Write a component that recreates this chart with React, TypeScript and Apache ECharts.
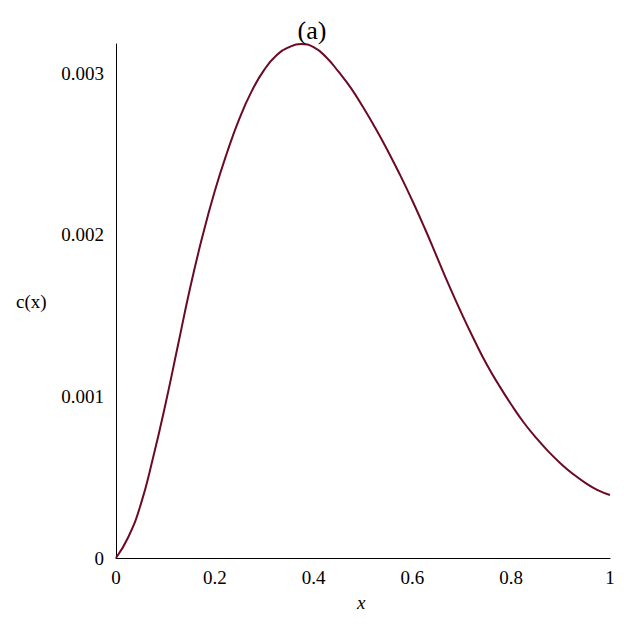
import React, { useEffect, useRef } from "react";
import * as echarts from "echarts";

const xValues = [
  0, 0.025, 0.05, 0.075, 0.1, 0.125, 0.15, 0.175, 0.2, 0.225, 0.25, 0.275, 0.3, 0.325, 0.35, 0.375, 0.4,
  0.425, 0.45, 0.475, 0.5, 0.525, 0.55, 0.575, 0.6, 0.625, 0.65, 0.675, 0.7, 0.725, 0.75, 0.775, 0.8,
  0.825, 0.85, 0.875, 0.9, 0.925, 0.95, 0.975, 1.0,
];
const cValues = [
  0, 0.00013, 0.00033, 0.00062, 0.00095, 0.00131, 0.00167, 0.00199, 0.00227, 0.00251, 0.00272, 0.00289,
  0.00302, 0.00311, 0.00316, 0.00318, 0.00316, 0.0031, 0.00301, 0.00291, 0.00279, 0.00266, 0.00252,
  0.00237, 0.00221, 0.00204, 0.00186, 0.00168, 0.00151, 0.00135, 0.0012, 0.00107, 0.00095, 0.00084,
  0.000745, 0.00066, 0.000585, 0.00052, 0.000465, 0.00042, 0.00039,
];
const xTicks = [0, 0.2, 0.4, 0.6, 0.8, 1];
const yTicks = [0, 0.001, 0.002, 0.003];
const titleText = "(a)";
const yName = "c(x)";
const xName = "x";

const FONT = "'Liberation Serif', 'DejaVu Serif', serif";

export default function App() {
  const ref = useRef<HTMLDivElement>(null);
  useEffect(() => {
    if (!ref.current) return;
    const chart = echarts.init(ref.current, null, { renderer: "svg" });
    const yMax = Math.max(...cValues);
    chart.setOption({
      animation: false,
      backgroundColor: "#ffffff",
      title: {
        text: titleText,
        left: "center",
        top: 12,
        textStyle: { fontFamily: FONT, fontSize: 26, fontWeight: "normal", color: "#000" },
      },
      grid: { left: 116, right: 14, top: 44, bottom: 66 },
      xAxis: {
        type: "value",
        min: 0,
        max: 1,
        interval: 0.2,
        axisLine: { show: true, lineStyle: { color: "#000", width: 1 } },
        axisTick: { show: false },
        splitLine: { show: false },
        axisLabel: {
          margin: 10,
          fontFamily: FONT,
          fontSize: 19,
          color: "#000",
          formatter: (v: number) => {
            const t = xTicks.find((k) => Math.abs(k - v) < 1e-9);
            return t === undefined ? "" : String(t);
          },
        },
      },
      yAxis: {
        type: "value",
        min: 0,
        max: yMax,
        interval: 0.001,
        axisLine: { show: true, lineStyle: { color: "#000", width: 1 } },
        axisTick: { show: false },
        splitLine: { show: false },
        axisLabel: {
          margin: 12,
          showMaxLabel: false,
          fontFamily: FONT,
          fontSize: 19,
          color: "#000",
          formatter: (v: number) => {
            const t = yTicks.find((k) => Math.abs(k - v) < 1e-9);
            if (t === undefined) return "";
            return t === 0 ? "0" : t.toFixed(3);
          },
        },
      },
      graphic: [
        {
          type: "text",
          left: 16,
          top: 292,
          style: { text: yName, font: `19px ${FONT}`, fill: "#000" },
        },
        {
          type: "text",
          left: 357,
          top: 593,
          style: { text: xName, font: `italic 19px ${FONT}`, fill: "#000" },
        },
      ],
      series: [
        {
          type: "line",
          data: xValues.map((x, i) => [x, cValues[i]]),
          smooth: 0.5,
          showSymbol: false,
          lineStyle: { color: "#6b0a24", width: 2 },
        },
      ],
    });
    return () => chart.dispose();
  }, []);
  return <div ref={ref} style={{ position: "fixed", left: 0, top: 0, width: 624, height: 624 }} />;
}
